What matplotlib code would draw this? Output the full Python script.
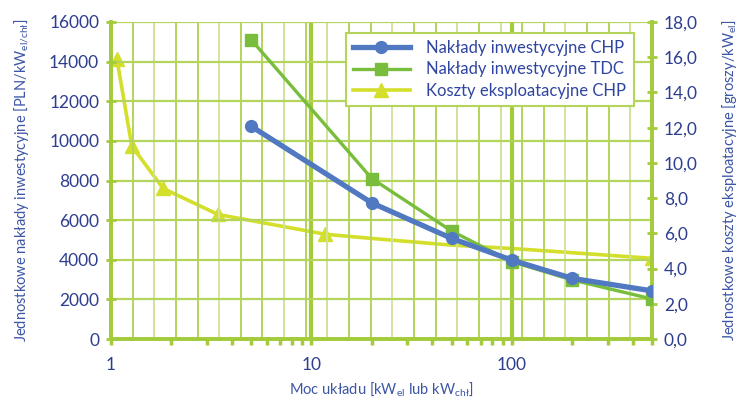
#!/usr/bin/env python3
"""unit costs of CHP / TDC units vs. power"""
import numpy as np
import matplotlib
matplotlib.use("Agg")
import matplotlib.pyplot as plt
from matplotlib.ticker import FixedLocator, FuncFormatter, NullFormatter

# data
moc_inw = [5, 20, 50, 100, 200, 500]
naklady_chp = [10740, 6870, 5080, 3980, 3060, 2430]
naklady_tdc = [15110, 8100, 5450, 3900, 2980, 2020]

moc_eksp = [1.07, 1.27, 1.82, 3.42, 11.7, 20, 50, 100, 200, 500]
koszty_chp = [15.9, 10.95, 8.55, 7.07, 5.95, 5.71, 5.33, 5.14, 4.9, 4.58]
eksp_markers = [0, 1, 2, 3, 4, 9]

left_ticks = [0, 2000, 4000, 6000, 8000, 10000, 12000, 14000, 16000]
right_ticks = [0, 2, 4, 6, 8, 10, 12, 14, 16, 18]
x_labels = [1, 10, 100]

BLUE = "#5079c2"
GREEN = "#78bd3c"
YELLOW = "#d3df2a"
GRID = "#b4d45c"
AXIS = "#a3cb3a"
TXT = "#2d3e8e"

plt.rcParams["font.family"] = ["Lato", "DejaVu Sans"]
plt.rcParams["mathtext.fontset"] = "custom"
plt.rcParams["mathtext.rm"] = "Lato"
plt.rcParams["mathtext.it"] = "Lato"

fig = plt.figure(figsize=(7.41, 4.0), dpi=100)
ax = fig.add_axes([111 / 741, 1 - 339 / 400, (652 - 111) / 741, (339 - 22) / 400])
ax2 = ax.twinx()

ax.set_xscale("log")
ax.set_xlim(1, 500)
ax.set_ylim(0, 16000)
ax2.set_ylim(0, 18)

# background vertical grid (uniform in picture, not log aligned)
shades = ["#cfe39a", GRID, "#cfe39a", GRID, GRID, "#d2e59f", GRID, GRID]
for i in range(1, 25):
    ax.plot([i / 25, i / 25], [0, 1], transform=ax.transAxes,
            color=shades[i % len(shades)], lw=1.4, zorder=0)
for dec in [10, 100]:
    ax.axvline(dec, color=AXIS, lw=3.0, zorder=0.5)
for t in left_ticks[1:]:
    ax.axhline(t, color=GRID, lw=1.6, zorder=0.5)

# series
ax2.plot(moc_eksp, koszty_chp, color=YELLOW, lw=2.6, marker="^", markersize=10,
         markevery=eksp_markers, label="Koszty eksploatacyjne CHP", zorder=2)
ax.plot(moc_inw, naklady_tdc, color=GREEN, lw=2.4, marker="s", markersize=9,
        label="Nakłady inwestycyjne TDC", zorder=3)
ax.plot(moc_inw, naklady_chp, color=BLUE, lw=3.8, marker="o", markersize=8.5,
        label="Nakłady inwestycyjne CHP", zorder=4)

ax.set_zorder(ax2.get_zorder() + 1)
ax.patch.set_visible(False)

# axes look
for a in (ax, ax2):
    for s in a.spines.values():
        s.set_color(AXIS)
        s.set_linewidth(2.6)
ax.spines["top"].set_visible(False)
ax2.spines["top"].set_visible(False)

ax.xaxis.set_major_locator(FixedLocator(x_labels))
ax.xaxis.set_major_formatter(FuncFormatter(lambda v, p: "%d" % v))
ax.xaxis.set_minor_formatter(NullFormatter())
ax.tick_params(axis="x", which="both", direction="out", color=AXIS, width=2.5,
               length=4, labelsize=12.5, labelcolor=TXT, pad=9)
ax.set_yticks(left_ticks)
ax.tick_params(axis="y", direction="inout", color=AXIS, width=2, length=7,
               labelsize=12.5, labelcolor=TXT, pad=5)
ax2.set_yticks(right_ticks)
ax2.yaxis.set_major_formatter(FuncFormatter(lambda v, p: ("%.1f" % v).replace(".", ",")))
ax2.tick_params(axis="y", direction="inout", color=AXIS, width=2, length=7,
                labelsize=12.5, labelcolor=TXT, pad=5)

ax.set_xlabel("Moc układu [kW$_{\\mathregular{el}}$ lub kW$_{\\mathregular{chł}}$]",
              fontsize=10.5, color="#3c55a5", labelpad=5)
ax.set_ylabel("Jednostkowe nakłady inwestycyjne [PLN/kW$_{\\mathregular{el/chł}}$]",
              fontsize=10.5, color="#3c55a5", labelpad=13)
ax2.set_ylabel("Jednostkowe koszty eksploatacyjne [groszy/kW$_{\\mathregular{el}}$]",
               fontsize=10.5, color="#3c55a5", labelpad=16)

h1, l1 = ax.get_legend_handles_labels()
h2, l2 = ax2.get_legend_handles_labels()
leg = ax.legend([h1[1], h1[0], h2[0]], [l1[1], l1[0], l2[0]],
                loc="upper right", bbox_to_anchor=(0.982, 0.993), fontsize=12,
                frameon=True, fancybox=False, framealpha=1, edgecolor=GRID,
                handlelength=3.4, handletextpad=1.0, borderpad=0.45,
                labelspacing=0.32)
leg.get_frame().set_linewidth(1.5)
for t in leg.get_texts():
    t.set_color("#2f45a0")

fig.savefig("out.png", dpi=100)
